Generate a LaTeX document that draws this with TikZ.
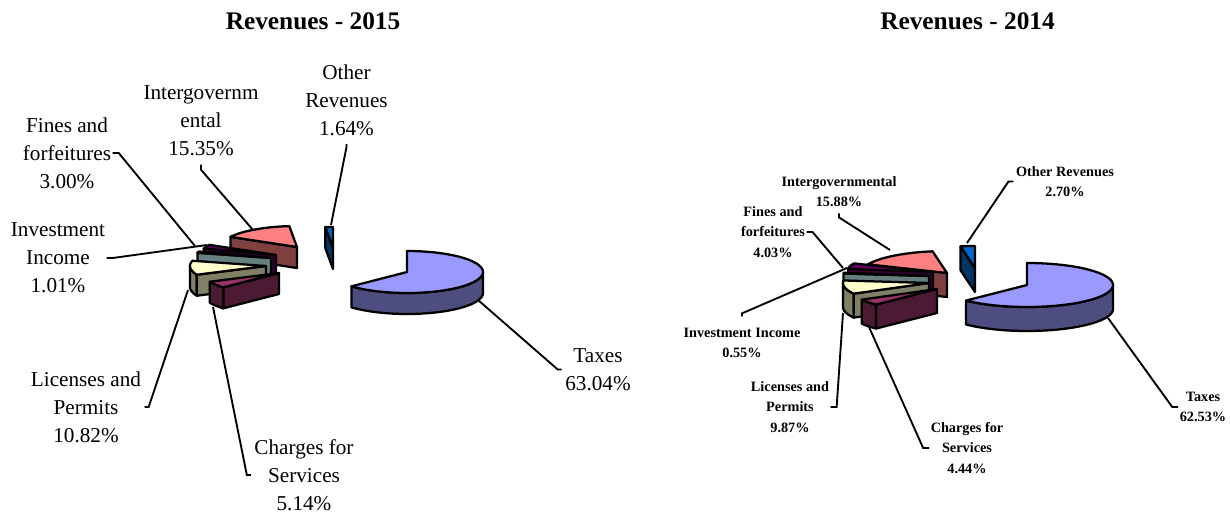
\documentclass[tikz,border=0pt]{standalone}
\usepackage{fontspec}
\setmainfont{Liberation Serif}

% slice colours (top face / side face)
\definecolor{taxtop}{HTML}{9999FF}\definecolor{taxside}{HTML}{4D4D80}
\definecolor{chgtop}{HTML}{993366}\definecolor{chgside}{HTML}{4D1A33}
\definecolor{lictop}{HTML}{FFFFCC}\definecolor{licside}{HTML}{808066}
\definecolor{invtop}{HTML}{CCFFFF}\definecolor{invside}{HTML}{668080}
\definecolor{fintop}{HTML}{660066}\definecolor{finside}{HTML}{330033}
\definecolor{igvtop}{HTML}{FF8080}\definecolor{igvside}{HTML}{804040}
\definecolor{othtop}{HTML}{0066CC}\definecolor{othside}{HTML}{003366}

% radii and height of the slabs, set again for each pie
\def\prx{76}\def\pry{21}\def\pth{21}

% one 3d pie slice: centre x, centre y, from angle, to angle, top colour, side colour
\newcommand{\pieslab}[6]{%
  \pgfmathsetmacro{\fa}{max(#3,-180)}\pgfmathsetmacro{\fb}{min(#4,0)}%
  \ifdim\fa pt<\fb pt
    \draw[slab,fill=#6] plot[domain=\fa:\fb,samples=40] ({#1+\prx*cos(\x)},{#2-\pry*sin(\x)})
      -- plot[domain=\fb:\fa,samples=40] ({#1+\prx*cos(\x)},{#2-\pry*sin(\x)+\pth}) -- cycle;
  \fi
  \pgfmathsetmacro{\fa}{max(#3,180)}\pgfmathsetmacro{\fb}{min(#4,360)}%
  \ifdim\fa pt<\fb pt
    \draw[slab,fill=#6] plot[domain=\fa:\fb,samples=40] ({#1+\prx*cos(\x)},{#2-\pry*sin(\x)})
      -- plot[domain=\fb:\fa,samples=40] ({#1+\prx*cos(\x)},{#2-\pry*sin(\x)+\pth}) -- cycle;
  \fi
  \pgfmathtruncatemacro{\vis}{cos(#3)>0}%
  \ifnum\vis=1
    \draw[slab,fill=#6] (#1,#2) -- ({#1+\prx*cos(#3)},{#2-\pry*sin(#3)}) -- ++(0,\pth) -- ({#1},{#2+\pth}) -- cycle;
  \fi
  \pgfmathtruncatemacro{\vis}{cos(#4)<0}%
  \ifnum\vis=1
    \draw[slab,fill=#6] (#1,#2) -- ({#1+\prx*cos(#4)},{#2-\pry*sin(#4)}) -- ++(0,\pth) -- ({#1},{#2+\pth}) -- cycle;
  \fi
  \draw[slab,fill=#5] (#1,#2) -- plot[domain=#3:#4,samples=60] ({#1+\prx*cos(\x)},{#2-\pry*sin(\x)}) -- cycle;
}

\begin{document}
\begin{tikzpicture}[
            x=0.75pt, y=-0.75pt,
            slab/.style={draw=black,line width=1.7pt,line join=round},
            leader/.style={draw=black,line width=1.4pt},
            ttl/.style={font=\bfseries\fontsize{19}{23}\selectfont},
            lbl/.style={align=center,inner sep=1pt,font=\fontsize{15.9}{21}\selectfont},
            rlbl/.style={align=center,inner sep=1pt,font=\bfseries\fontsize{10.7}{15.4}\selectfont}
        ]
        \useasboundingbox (0,0) rectangle (1230,514);

        % Titles %
        \node[ttl] (ttl15) at (313,21) {Revenues - 2015};
        \node[ttl] (ttl14) at (967.5,21) {Revenues - 2014};

        % Draw 2015 pie %
        \def\prx{76}\def\pry{21}\def\pth{21}
        \pieslab{333}{248}{90}{95.8}{othtop}{othside}
        \pieslab{297}{247}{95.8}{151.1}{igvtop}{igvside}
        \pieslab{276}{255}{151.1}{161.9}{fintop}{finside}
        \pieslab{271}{258}{161.9}{165.5}{invtop}{invside}
        \pieslab{266}{266}{165.5}{204.5}{lictop}{licside}
        \pieslab{279}{273}{204.5}{223}{chgtop}{chgside}
        \pieslab{407}{272}{-137}{90}{taxtop}{taxside}

        % Draw 2014 pie %
        \def\prx{86}\def\pry{22}\def\pth{24}
        \pieslab{975}{268}{90}{99.7}{othtop}{othside}
        \pieslab{947}{273}{99.7}{156.9}{igvtop}{igvside}
        \pieslab{933}{272}{156.9}{171.4}{fintop}{finside}
        \pieslab{929}{276}{171.4}{173.4}{invtop}{invside}
        \pieslab{929}{283}{173.4}{208.9}{lictop}{licside}
        \pieslab{937}{289}{208.9}{224.9}{chgtop}{chgside}
        \pieslab{1027}{285}{-135.1}{90}{taxtop}{taxside}

        % Labels 2015 %
        \node[lbl] (lIgv) at (201,121) {Intergovernm\\ental\\15.35\%};
        \node[lbl] (lOth) at (346.5,100) {Other\\Revenues\\1.64\%};
        \node[lbl] (lFin) at (67,153) {Fines and\\forfeitures\\3.00\%};
        \node[lbl] (lInv) at (58,258) {Investment\\Income\\1.01\%};
        \node[lbl] (lLic) at (86,407) {Licenses and\\Permits\\10.82\%};
        \node[lbl] (lChg) at (304,475) {Charges for\\Services\\5.14\%};
        \node[lbl] (lTax) at (598,369.5) {Taxes\\63.04\%};

        % Labels 2014 %
        \node[rlbl] (rIgv) at (839,191.5) {Intergovernmental\\15.88\%};
        \node[rlbl] (rOth) at (1065,181.5) {Other Revenues\\2.70\%};
        \node[rlbl] (rFin) at (773,232) {Fines and\\forfeitures\\4.03\%};
        \node[rlbl] (rInv) at (742,343) {Investment Income\\0.55\%};
        \node[rlbl] (rLic) at (790,407) {Licenses and\\Permits\\9.87\%};
        \node[rlbl] (rChg) at (967,448) {Charges for\\Services\\4.44\%};
        \node[rlbl] (rTax) at (1203,407) {Taxes\\62.53\%};

        % Leader ends on the slices %
        \coordinate (tIgvL) at (253,230);
        \coordinate (tOthL) at (331,225);
        \coordinate (tFinL) at (195,246);
        \coordinate (tInvL) at (207,245);
        \coordinate (tLicL) at (188,290);
        \coordinate (tChgL) at (213,307);
        \coordinate (tTaxL) at (478,300);
        \coordinate (tIgvR) at (890,250);
        \coordinate (tOthR) at (967,243);
        \coordinate (tFinR) at (843,268);
        \coordinate (tInvR) at (847,268);
        \coordinate (tLicR) at (843,313);
        \coordinate (tChgR) at (869,327);
        \coordinate (tTaxR) at (1108,318);

        % Draw leaders %
        \draw[leader] (lIgv.south) ++(0,7) -- ++(0,5) -- (tIgvL);
        \draw[leader] (lOth.south) ++(0,7) -- ++(0,3) -- (tOthL);
        \draw[leader] (lFin.east) -- ++(6,0) -- (tFinL);
        \draw[leader] (lInv.east) -- ++(6,0) -- (tInvL);
        \draw[leader] (lLic.east) ++(2,0) -- ++(4,0) -- (tLicL);
        \draw[leader] (lChg.west) ++(-2,0) -- ++(-4,0) -- (tChgL);
        \draw[leader] (lTax.west) ++(-2,0) -- ++(-4,0) -- (tTaxL);
        \draw[leader] (rIgv.south) ++(0,5) -- ++(0,4) -- (tIgvR);
        \draw[leader] (rOth.west) ++(-1,0) -- ++(-5,0) -- (tOthR);
        \draw[leader] (rFin.east) -- ++(6,0) -- (tFinR);
        \draw[leader] (rInv.north) ++(0,-10) -- ++(0,-3) -- (tInvR);
        \draw[leader] (rLic.east) -- ++(6,0) -- (tLicR);
        \draw[leader] (rChg.west) -- ++(-6,0) -- (tChgR);
        \draw[leader] (rTax.west) -- ++(-6,0) -- (tTaxR);
\end{tikzpicture}
\end{document}
